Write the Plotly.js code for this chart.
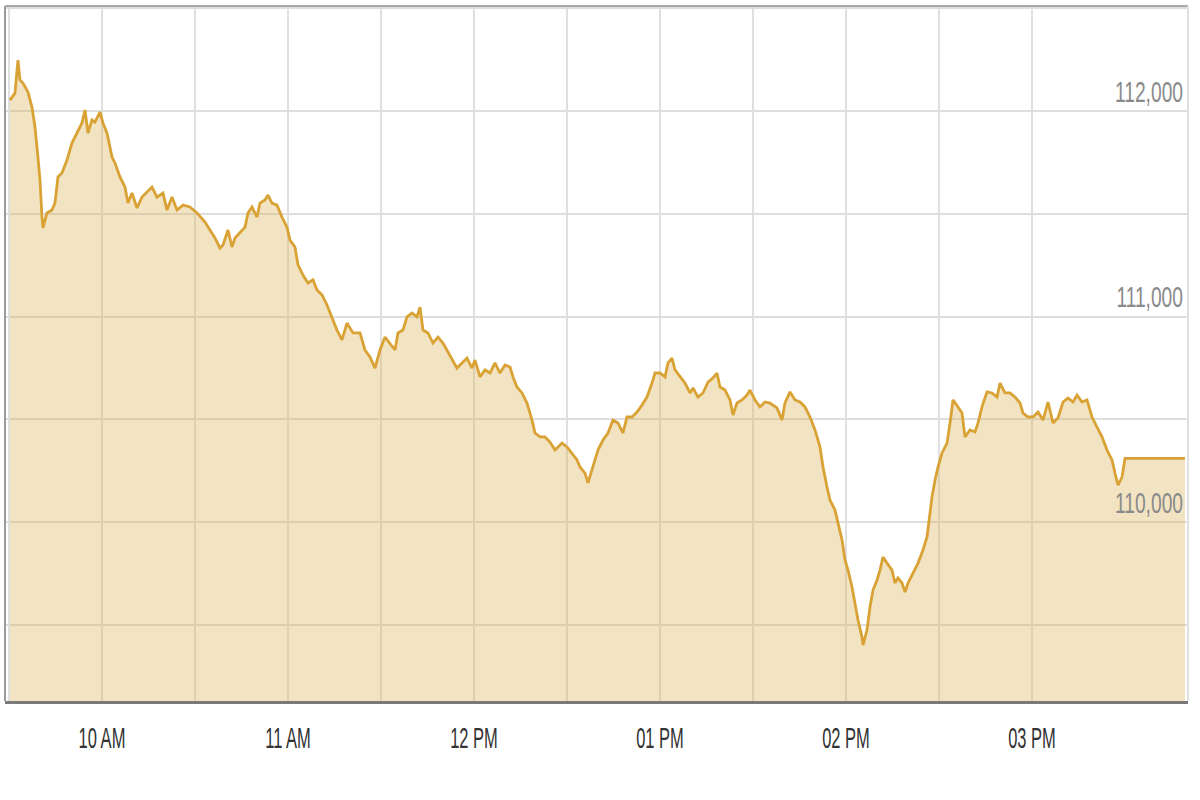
<!DOCTYPE html>
<html>
<head>
<meta charset="utf-8">
<script src="https://cdn.plot.ly/plotly-3.0.1.min.js"></script>
<style>
  html, body { margin: 0; padding: 0; background: #ffffff; }
  #chart { width: 1200px; height: 800px; }
</style>
</head>
<body>
<div id="chart"></div>
<script>
// Session date (only the time of day is shown)
const sessionDate = "2024-01-02";

// Intraday index level, hour by hour
const times09 = ["09:30:19","09:31:56","09:32:54","09:33:33","09:34:31","09:36:08","09:37:25","09:38:23","09:39:21","09:40:00",
  "09:40:39","09:40:58","09:42:15","09:43:52","09:44:50","09:45:48","09:47:06","09:48:43","09:50:19","09:51:56",
  "09:53:33","09:54:31","09:55:29","09:56:46","09:57:44","09:59:21"];
const prices09 = [112053,112087,112248,112151,112136,112092,112019,111922,111776,111664,
  111484,111431,111504,111518,111552,111679,111698,111761,111844,111893,
  111942,112005,111893,111956,111946,111995];

const times10 = ["10:00:19","10:01:37","10:03:14","10:04:12","10:05:48","10:07:25","10:08:23","10:09:41","10:11:17","10:12:54",
  "10:14:31","10:16:08","10:17:44","10:19:41","10:20:58","10:22:35","10:24:12","10:26:08","10:28:23","10:30:39",
  "10:33:14","10:34:50","10:36:27","10:38:04","10:39:02","10:40:39","10:41:56","10:42:54","10:44:31","10:46:08",
  "10:47:06","10:48:23","10:50:00","10:50:58","10:52:35","10:53:33","10:54:50","10:56:27","10:58:04","10:59:41"];
const prices10 = [111942,111893,111776,111747,111679,111630,111552,111601,111528,111581,
  111606,111630,111581,111601,111518,111581,111518,111542,111533,111504,
  111460,111421,111382,111333,111348,111421,111338,111382,111406,111435,
  111504,111533,111484,111552,111567,111591,111552,111542,111484,111435];

const times11 = ["11:00:39","11:02:15","11:03:14","11:04:50","11:06:27","11:08:04","11:09:21","11:10:58","11:12:35","11:14:12",
  "11:15:48","11:17:25","11:19:02","11:20:58","11:23:14","11:24:50","11:26:27","11:28:04","11:29:41","11:31:17",
  "11:32:54","11:34:31","11:35:29","11:37:06","11:38:23","11:40:00","11:41:37","11:42:35","11:43:33","11:45:10",
  "11:46:46","11:48:23","11:50:00","11:51:17","11:52:54","11:54:31","11:56:08","11:57:44","11:59:21"];
const prices11 = [111372,111338,111251,111202,111163,111178,111129,111105,111056,110998,
  110934,110886,110968,110920,110920,110837,110803,110749,110837,110900,
  110871,110837,110920,110934,110998,111017,110998,111046,110934,110920,
  110871,110900,110871,110837,110788,110749,110774,110798,110749];

const times12 = ["12:00:19","12:01:56","12:03:33","12:05:10","12:06:46","12:08:23","12:10:00","12:11:37","12:12:35","12:13:52",
  "12:15:29","12:17:06","12:18:43","12:19:41","12:21:17","12:22:54","12:24:31","12:26:08","12:28:23","12:30:00",
  "12:31:37","12:33:14","12:34:12","12:35:48","12:36:46","12:38:23","12:40:00","12:41:37","12:43:14","12:44:50",
  "12:46:27","12:48:04","12:49:21","12:50:58","12:52:35","12:54:12","12:55:48","12:57:25","12:58:23"];
const prices12 = [110788,110706,110740,110725,110774,110725,110764,110754,110706,110657,
  110628,110579,110496,110433,110414,110414,110389,110350,110384,110365,
  110336,110302,110268,110238,110190,110268,110350,110399,110433,110496,
  110482,110433,110511,110511,110535,110569,110608,110676,110725];

const times13 = ["13:00:00","13:01:37","13:02:35","13:03:52","13:04:50","13:06:27","13:08:04","13:09:41","13:10:39","13:12:15",
  "13:13:52","13:15:29","13:17:06","13:18:23","13:19:21","13:20:58","13:22:35","13:23:33","13:24:50","13:26:27",
  "13:28:04","13:29:02","13:30:39","13:32:15","13:33:52","13:35:29","13:37:44","13:39:21","13:40:19","13:41:56",
  "13:43:33","13:45:10","13:46:46","13:48:23","13:50:00","13:51:37","13:52:35","13:53:52","13:54:50","13:56:27",
  "13:57:25","13:58:43","13:59:41"];
const prices13 = [110725,110706,110774,110798,110740,110706,110676,110628,110652,110608,
  110628,110681,110701,110725,110657,110642,110594,110521,110579,110594,
  110618,110642,110594,110560,110584,110579,110555,110496,110579,110633,
  110594,110584,110560,110511,110448,110365,110268,110170,110107,110058,
  109995,109912,109815];

const times14 = ["14:00:39","14:01:56","14:02:54","14:03:52","14:05:10","14:05:29","14:06:46","14:07:44","14:08:43","14:10:00",
  "14:10:58","14:11:56","14:13:14","14:14:50","14:15:48","14:16:46","14:18:04","14:19:02","14:20:00","14:21:37",
  "14:23:14","14:24:50","14:26:08","14:27:06","14:27:44","14:28:43","14:29:41","14:30:58","14:32:35","14:33:33",
  "14:34:31","14:36:08","14:37:25","14:38:23","14:40:00","14:41:37","14:42:35","14:43:52","14:45:29","14:47:06",
  "14:48:43","14:49:41","14:51:17","14:52:54","14:54:31","14:56:08","14:57:06","14:58:43"];
const prices14 = [109766,109684,109606,109523,109440,109401,109474,109586,109669,109718,
  109766,109830,109800,109766,109703,109728,109703,109659,109703,109752,
  109800,109864,109927,110044,110122,110204,110268,110336,110384,110482,
  110594,110560,110530,110414,110448,110438,110482,110560,110633,110628,
  110608,110676,110628,110628,110608,110579,110530,110511];

const times15 = ["15:00:19","15:01:56","15:03:33","15:05:10","15:06:46","15:08:23","15:10:00","15:11:37","15:13:14","15:14:31",
  "15:16:08","15:17:44","15:19:21","15:20:58","15:22:35","15:24:12","15:25:48","15:26:46","15:27:44","15:29:02",
  "15:30:00","15:49:20"];
const prices15 = [110511,110535,110496,110584,110482,110506,110584,110603,110584,110618,
  110584,110594,110511,110462,110414,110350,110302,110238,110180,110219,
  110310,110310];

// Axis extents and tick labels
const xStart = "09:28:43";
const xEnd = "15:50:19";
const yMin = 109129;
const yMax = 112511;
const yTickVals = [110000, 111000, 112000];
const yTickText = ["110,000", "111,000", "112,000"];

const allTimes = [].concat(times09, times10, times11, times12, times13, times14, times15)
  .map(t => sessionDate + " " + t);
const allPrices = [].concat(prices09, prices10, prices11, prices12, prices13, prices14, prices15);

const trace = {
  x: allTimes,
  y: allPrices,
  type: "scatter",
  mode: "lines",
  line: { color: "#d9a234", width: 2.8 },
  fill: "tozeroy",
  fillcolor: "rgba(218,178,86,0.36)",
  hoverinfo: "skip",
  showlegend: false
};

const labelFont = "'Liberation Sans', Arial, sans-serif";

const layout = {
  width: 1200,
  height: 800,
  margin: { l: 5, r: 12, t: 6, b: 99, pad: 0 },
  paper_bgcolor: "#ffffff",
  plot_bgcolor: "#ffffff",
  showlegend: false,
  xaxis: {
    type: "date",
    range: [sessionDate + " " + xStart, sessionDate + " " + xEnd],
    dtick: 3600000,
    tick0: sessionDate + " 00:00:00",
    tickformat: "%I %p",
    ticks: "",
    ticklabelstandoff: 8,
    tickfont: { family: labelFont, size: 30, color: "#333333" },
    showgrid: true,
    gridcolor: "#e0e0e0",
    gridwidth: 2,
    minor: { dtick: 1800000, tick0: sessionDate + " 00:00:00", showgrid: true, gridcolor: "#e0e0e0", gridwidth: 2 },
    showline: true,
    linecolor: "#7a7a7a",
    linewidth: 3,
    zeroline: false,
    fixedrange: true
  },
  yaxis: {
    range: [yMin, yMax],
    side: "right",
    tickmode: "array",
    tickvals: yTickVals,
    ticktext: yTickText,
    ticklabelposition: "inside",
    ticklabelshift: -20,
    ticklabelstandoff: 2,
    ticks: "",
    tickfont: { family: labelFont, size: 30, color: "#8a8a8a" },
    showgrid: true,
    gridcolor: "#dedede",
    gridwidth: 2,
    minor: { dtick: 500, tick0: 0, showgrid: true, gridcolor: "#dedede", gridwidth: 2 },
    showline: false,
    zeroline: false,
    fixedrange: true
  },
  shapes: [
    { type: "line", xref: "paper", yref: "paper", x0: 0, x1: 0, y0: 0, y1: 1, line: { color: "#9a9a9a", width: 2 } },
    { type: "line", xref: "paper", yref: "paper", x0: 0, x1: 1, y0: 1, y1: 1, line: { color: "#a8a8a8", width: 2 } },
    { type: "line", xref: "paper", yref: "paper", x0: 1, x1: 1, y0: 0, y1: 1, line: { color: "#e0e0e0", width: 2 } }
  ]
};

// The reference uses a tall, condensed face: squeeze the real text labels horizontally
function condense(selector, factor) {
  document.querySelectorAll(selector).forEach(function (el) {
    const w = el.getComputedTextLength();
    if (w > 0) {
      el.setAttribute("textLength", (w * factor).toFixed(1));
      el.setAttribute("lengthAdjust", "spacingAndGlyphs");
    }
  });
}

Plotly.newPlot("chart", [trace], layout, { displayModeBar: false, staticPlot: true }).then(function () {
  condense(".xtick text", 0.55);
  condense(".ytick text", 0.64);
});
</script>
</body>
</html>
